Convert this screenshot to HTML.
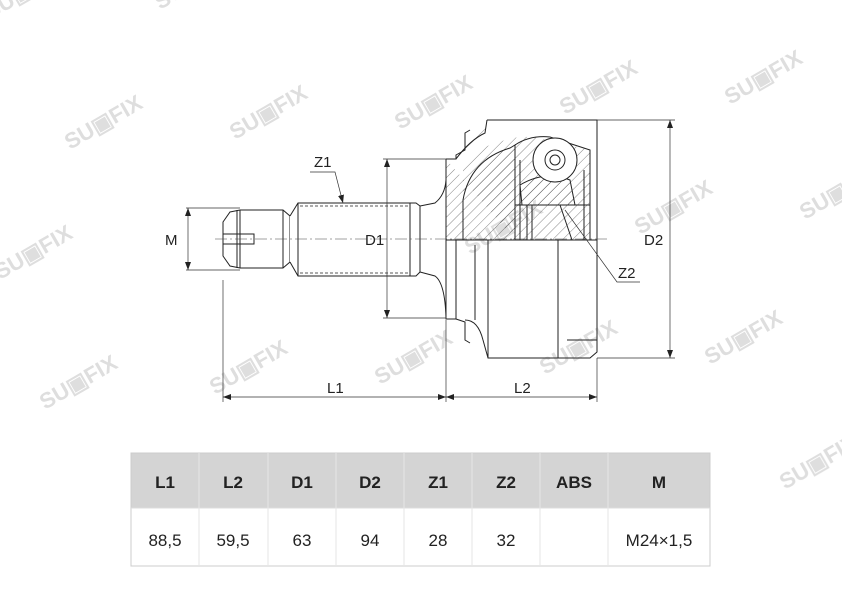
<!DOCTYPE html>
<html><head><meta charset="utf-8"><style>
body{margin:0;background:#fff;}
svg{display:block}
text{font-family:"Liberation Sans",sans-serif}
</style></head><body>
<svg width="842" height="595" viewBox="0 0 842 595" xmlns="http://www.w3.org/2000/svg">
<defs>
<pattern id="h" width="7" height="7" patternUnits="userSpaceOnUse" patternTransform="rotate(45)">
<line x1="0" y1="0" x2="0" y2="7" stroke="#333" stroke-width="0.6"/></pattern>
<marker id="a" markerWidth="8" markerHeight="6" refX="8" refY="3" orient="auto-start-reverse" markerUnits="userSpaceOnUse"><path d="M0,0 L8,3 L0,6z" fill="#222"/></marker>
</defs>
<!-- watermarks -->
<g fill="#d6d6d6" font-weight="bold" font-size="22" opacity="0.8">
<text transform="translate(70,150) rotate(-30)">SU▣FIX</text>
<text transform="translate(235,140) rotate(-30)">SU▣FIX</text>
<text transform="translate(400,130) rotate(-30)">SU▣FIX</text>
<text transform="translate(565,115) rotate(-30)">SU▣FIX</text>
<text transform="translate(730,105) rotate(-30)">SU▣FIX</text>
<text transform="translate(0,280) rotate(-30)">SU▣FIX</text>
<text transform="translate(305,265) rotate(-30)">SU▣FIX</text>
<text transform="translate(470,255) rotate(-30)">SU▣FIX</text>
<text transform="translate(640,235) rotate(-30)">SU▣FIX</text>
<text transform="translate(805,220) rotate(-30)">SU▣FIX</text>
<text transform="translate(45,410) rotate(-30)">SU▣FIX</text>
<text transform="translate(215,395) rotate(-30)">SU▣FIX</text>
<text transform="translate(380,385) rotate(-30)">SU▣FIX</text>
<text transform="translate(545,375) rotate(-30)">SU▣FIX</text>
<text transform="translate(710,365) rotate(-30)">SU▣FIX</text>
<text transform="translate(785,490) rotate(-30)">SU▣FIX</text>
<text transform="translate(-10,20) rotate(-30)">SU▣FIX</text>
<text transform="translate(160,10) rotate(-30)">SU▣FIX</text>
</g>
<g stroke="#222" stroke-width="1" fill="none">
<!-- stub thread -->
<path d="M223,222 L230,212 L240,210 L283,210 L290,216 L290,262 L283,268 L240,268 L230,266 L223,256 Z" fill="#fff"/>
<line x1="237" y1="210" x2="237" y2="268"/><line x1="240" y1="210" x2="240" y2="268"/>
<line x1="283" y1="210" x2="283" y2="268"/>
<path d="M223,234 L254,234 L254,244 L223,244"/>
<!-- spline shaft -->
<path d="M290,216 L298,203 L416,203 L420,206 L420,272 L416,276 L298,276 L290,262" fill="#fff"/>
<line x1="298" y1="203" x2="298" y2="276"/>
<line x1="300" y1="206" x2="410" y2="206" stroke-dasharray="3,2" stroke-width="0.7"/>
<line x1="300" y1="273" x2="410" y2="273" stroke-dasharray="3,2" stroke-width="0.7"/>
<line x1="410" y1="203" x2="410" y2="276"/>
<!-- neck -->
<path d="M420,206 L435,203 Q445,195 446,180 L446,318 Q445,283 435,276 L420,272"/>
<!-- flange/ring -->
<path d="M446,159 L456,159 L456,155 L465,150 L465,133 L470,130" />
<rect x="446" y="240" width="10" height="79" fill="#fff"/>
<path d="M456,319 L465,322 L465,340 L470,343"/>
<!-- upper section hatched -->
<path d="M446,159 L456,159 Q472,140 485,135 L487,120 L597,120 L597,240 L463,240 L463,168 Q470,152 490,145 L505,140 Q520,135 540,138 L590,150 L590,240 L597,240 L597,120 L487,120 Z" fill="url(#h)" stroke="none"/>
<path d="M446,159 L446,240 L463,240 L463,200 Q470,160 510,148 L515,145 L515,240" fill="url(#h)"/>
<path d="M487,120 L597,120 L597,240 M487,120 L485,133 Q470,140 456,159"/>
<path d="M515,145 Q530,135 550,137 L590,150 L590,240" fill="none"/>
<path d="M520,185 Q545,170 570,180 L575,205 L522,205 Z" fill="url(#h)"/>
<line x1="515" y1="205" x2="590" y2="205"/>
<line x1="520" y1="160" x2="520" y2="240"/><line x1="527" y1="205" x2="527" y2="240"/>
<line x1="532" y1="205" x2="532" y2="240"/>
<circle cx="555" cy="160" r="22" fill="#fff"/>
<circle cx="555" cy="160" r="10"/><circle cx="555" cy="160" r="5"/>
<line x1="560" y1="205" x2="572" y2="240"/>
<line x1="584" y1="170" x2="584" y2="240"/>
<!-- lower outer view -->
<path d="M463,240 L590,240 L597,240 L597,352 L590,358 L488,358 L483,340 Q478,320 465,320"/>
<line x1="488" y1="240" x2="488" y2="358"/>
<line x1="558" y1="240" x2="558" y2="358"/>
<line x1="567" y1="340" x2="597" y2="340"/>
<line x1="475" y1="245" x2="475" y2="320"/>
</g>
<!-- centerline -->
<line x1="215" y1="239" x2="610" y2="239" stroke="#444" stroke-width="0.6" stroke-dasharray="12,3,2,3"/>
<!-- dimensions -->
<g stroke="#333" stroke-width="0.7" fill="none">
<line x1="186" y1="208" x2="240" y2="208"/><line x1="186" y1="270" x2="240" y2="270"/>
<line x1="188" y1="208" x2="188" y2="270" marker-start="url(#a)" marker-end="url(#a)"/>
<line x1="383" y1="159" x2="446" y2="159"/><line x1="383" y1="318" x2="446" y2="318"/>
<line x1="387" y1="159" x2="387" y2="318" marker-start="url(#a)" marker-end="url(#a)"/>
<line x1="597" y1="120" x2="675" y2="120"/><line x1="597" y1="358" x2="675" y2="358"/>
<line x1="670" y1="120" x2="670" y2="358" marker-start="url(#a)" marker-end="url(#a)"/>
<line x1="223" y1="280" x2="223" y2="402"/><line x1="446" y1="320" x2="446" y2="402"/><line x1="597" y1="358" x2="597" y2="402"/>
<line x1="223" y1="397" x2="446" y2="397" marker-start="url(#a)" marker-end="url(#a)"/>
<line x1="446" y1="397" x2="597" y2="397" marker-start="url(#a)" marker-end="url(#a)"/>
<path d="M310,172 L335,172 L343,203" marker-end="url(#a)"/>
<path d="M640,282 L617,282 L565,210"/>
</g>
<g font-size="15" fill="#222">
<text x="165" y="245">M</text>
<text x="365" y="245">D1</text>
<text x="644" y="245">D2</text>
<text x="314" y="167">Z1</text>
<text x="618" y="278">Z2</text>
<text x="327" y="393">L1</text>
<text x="514" y="393">L2</text>
</g>
<!-- table -->
<rect x="131" y="453" width="579" height="55" fill="#d4d4d4"/>
<rect x="131" y="453" width="579" height="113" fill="none" stroke="#ccc" stroke-width="1"/>
<line x1="131" y1="508" x2="710" y2="508" stroke="#ddd"/>
<g stroke="#e6e6e6" stroke-width="1">
<line x1="199" y1="453" x2="199" y2="566"/><line x1="268" y1="453" x2="268" y2="566"/>
<line x1="336" y1="453" x2="336" y2="566"/><line x1="404" y1="453" x2="404" y2="566"/>
<line x1="472" y1="453" x2="472" y2="566"/><line x1="540" y1="453" x2="540" y2="566"/>
<line x1="608" y1="453" x2="608" y2="566"/>
</g>
<g font-size="17" font-weight="bold" fill="#222" text-anchor="middle">
<text x="165" y="488">L1</text><text x="233" y="488">L2</text><text x="302" y="488">D1</text>
<text x="370" y="488">D2</text><text x="438" y="488">Z1</text><text x="506" y="488">Z2</text>
<text x="574" y="488">ABS</text><text x="659" y="488">M</text>
</g>
<g font-size="17" fill="#222" text-anchor="middle">
<text x="165" y="546">88,5</text><text x="233" y="546">59,5</text><text x="302" y="546">63</text>
<text x="370" y="546">94</text><text x="438" y="546">28</text><text x="506" y="546">32</text>
<text x="659" y="546">M24×1,5</text>
</g>
</svg>
</body></html>
